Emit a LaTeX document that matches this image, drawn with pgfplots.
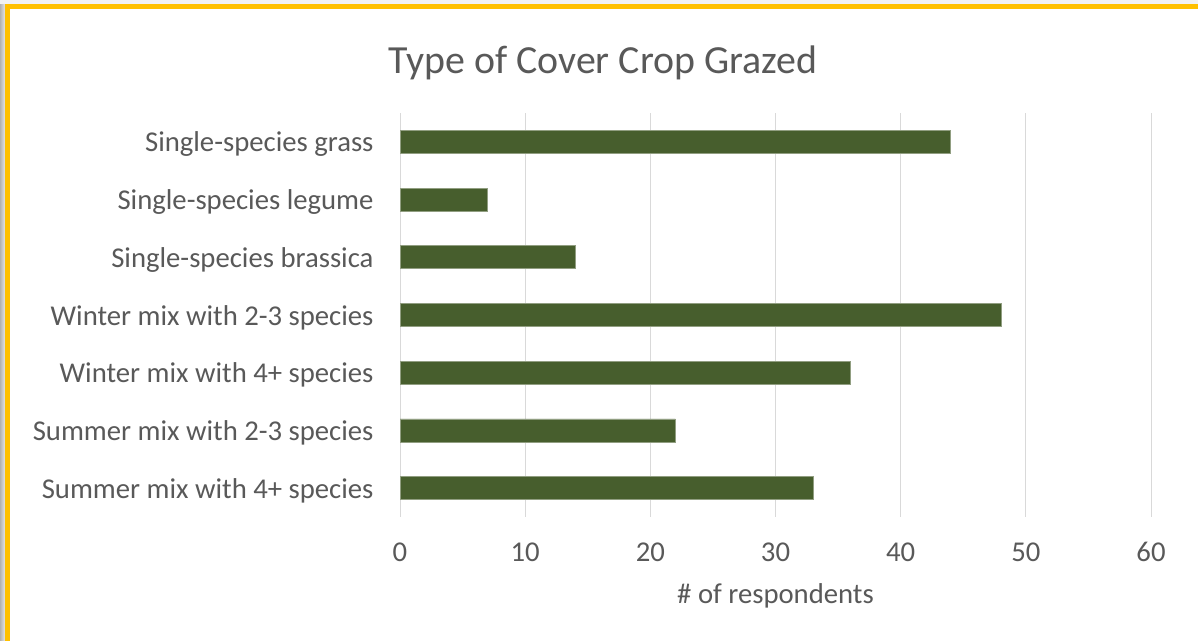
\documentclass[border=0pt]{standalone}
\usepackage{pgfplots}
\pgfplotsset{compat=1.18}
\usepackage{fontspec}
\setmainfont{Carlito}
\definecolor{txt}{HTML}{595959}
\definecolor{barc}{HTML}{475E2D}
\definecolor{gold}{HTML}{FFC000}
\definecolor{gridc}{HTML}{D9D9D9}
\begin{document}
\begin{tikzpicture}[x=1bp,y=1bp]
\useasboundingbox (0,0) rectangle (1198,641);
\fill[white] (0,0) rectangle (1198,641);
\shade[left color=gray!60, right color=gray!20] (0,0) rectangle (5,641);
\fill[gray!10] (0,637) rectangle (1198,641);
\fill[gold] (5,0) rectangle (10,637);
\fill[gold] (5,632) rectangle (1198,637);
\node[text=txt, font=\fontsize{40}{46}\selectfont] at (603,578) {Type of Cover Crop Grazed};
\begin{axis}[
  at={(400bp,124bp)}, anchor=south west,
  scale only axis, width=751bp, height=404bp,
  xmin=0, xmax=60, ymin=-0.5, ymax=6.5,
  xtick={0,10,...,60}, ytick={0,...,6},
  yticklabels={Summer mix with 4+ species, Summer mix with 2-3 species, Winter mix with 4+ species, Winter mix with 2-3 species, Single-species brassica, Single-species legume, Single-species grass},
  xbar, bar width=23bp,
  xmajorgrids, grid style={gridc, line width=1bp},
  axis line style={draw=none},
  major tick length=0,
  /pgf/number format/assume math mode=true,
  tick label style={text=txt, font=\fontsize{28.8}{32}\selectfont},
  y tick label style={xshift=-23bp, yshift=-2.5bp},
  x tick label style={yshift=-22bp},
  xlabel={\# of respondents},
  xlabel style={text=txt, font=\fontsize{28.8}{32}\selectfont, yshift=-15bp},
]
\addplot[fill=barc, draw=barc!60!white, line width=0.6bp] coordinates {
(33,0) (22,1) (36,2) (48,3) (14,4) (7,5) (44,6)
};
\end{axis}
\end{tikzpicture}
\end{document}
